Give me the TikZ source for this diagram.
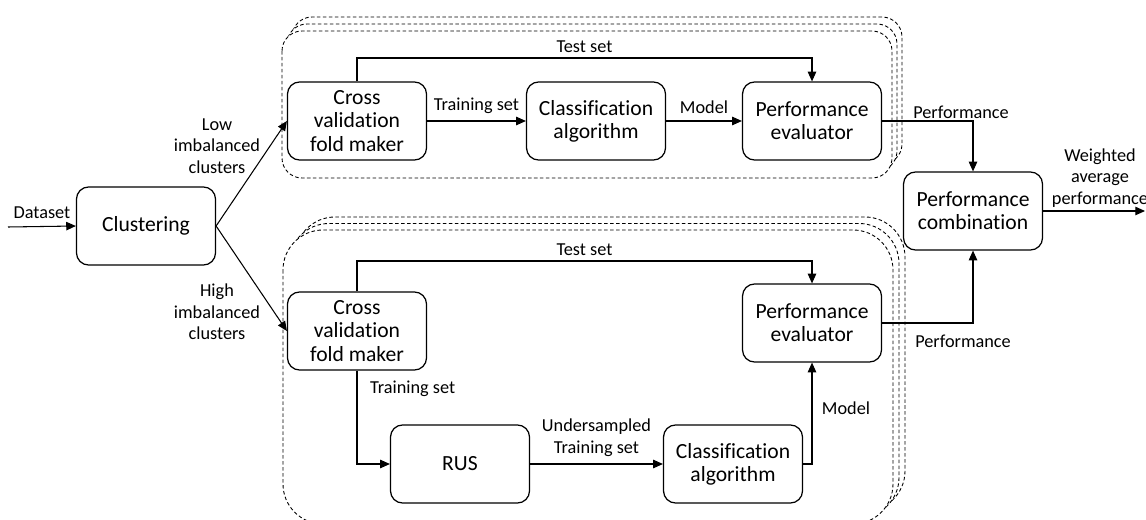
\documentclass[tikz,border=0pt]{standalone}
\usepackage{fontspec}
\setmainfont{Carlito}[Ligatures=CommonOff]
\usetikzlibrary{arrows.meta}

\tikzset{
  block/.style={draw, line width=0.7pt, rounded corners=0.24cm, fill=white,
    minimum width=2.78cm, minimum height=1.56cm, inner sep=1pt, align=center,
    font=\fontsize{12.3}{13.2}\selectfont},
  lbl/.style={font=\fontsize{10.4}{12.3}\selectfont, align=center, inner sep=1pt},
  arr/.style={line width=0.6pt, -{Triangle[length=5.5pt,width=4.8pt]}},
  foldframe/.style={draw, dashed, dash pattern=on 2pt off 1.4pt, line width=0.5pt, fill=white}
}

\begin{document}
\begin{tikzpicture}[x=0.02cm, y=-0.02cm]
  \useasboundingbox (0,0) rectangle (1146,520);

  % stacked folds, upper branch
  \foreach \d in {2,1,0}
    \draw[foldframe, rounded corners=0.4cm] ({282+5*\d},{31-7*\d}) rectangle ({892+5*\d},{178-7*\d});
  % stacked folds, lower branch
  \foreach \d in {2,1,0}
    \draw[foldframe, rounded corners=0.8cm] ({283+6*\d},{230-6.5*\d}) rectangle ({893+6*\d},{524-6.5*\d});

  % main blocks
  \node[block] (clust) at (146,226) {Clustering};
  \node[block] (cvA) at (357,121) {Cross\\validation\\fold maker};
  \node[block] (caA) at (596,121) {Classification\\algorithm};
  \node[block] (peA) at (812,121) {Performance\\evaluator};
  \node[block] (cvB) at (357,331) {Cross\\validation\\fold maker};
  \node[block] (rus) at (460,464) {RUS};
  \node[block] (caB) at (733,464) {Classification\\algorithm};
  \node[block] (peB) at (812,323) {Performance\\evaluator};
  \node[block] (comb) at (973,211) {Performance\\combination};

  \coordinate (src) at (8,227);
  \coordinate (sink) at (1145,211);

  % input and clustering
  \draw[arr] (src) -- node[lbl, above=3pt] {Dataset} (clust.west);
  \draw[arr] (clust.east) -- (cvA.west);
  \draw[arr] (clust.east) -- (cvB.west);
  \node[lbl] (lowlbl) at (217,146) {Low\\imbalanced\\clusters};
  \node[lbl] (highlbl) at (217,312) {High\\imbalanced\\clusters};

  % upper branch
  \draw[arr] (cvA) -- node[lbl, above=3pt] {Training set} (caA);
  \draw[arr] (caA) -- node[lbl, above=3pt] {Model} (peA);
  \draw[arr] (cvA.north) -- (cvA.north |- 0,58) -| node[lbl, pos=0.25, above=2pt] {Test set} (peA.north);
  \draw[arr] (peA.east) -| (comb.north);
  \node[lbl] (perfA) at (961,112) {Performance};

  % lower branch
  \draw[arr] (cvB.north) -- (cvB.north |- 0,261) -| node[lbl, pos=0.25, above=2pt] {Test set} (peB.north);
  \draw[arr] (cvB.south) |- (rus.west);
  \node[lbl, anchor=west] (trainB) at (368,389) {Training set};
  \draw[arr] (rus) -- node[lbl, above=3pt] {Undersampled\\Training set} (caB);
  \draw[arr] (caB.east) -| (peB.south);
  \node[lbl] (modelB) at (846,408) {Model};
  \draw[arr] (peB.east) -| (comb.south);
  \node[lbl] (perfB) at (963,341) {Performance};

  % output
  \draw[arr] (comb.east) -- (sink);
  \node[lbl] (wlbl) at (1100,178) {Weighted\\average\\performance};
\end{tikzpicture}
\end{document}
